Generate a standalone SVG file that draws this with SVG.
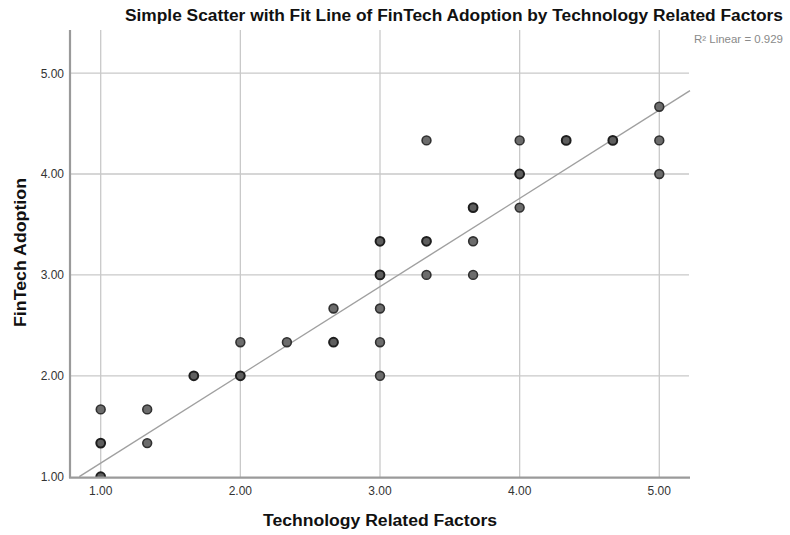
<svg xmlns="http://www.w3.org/2000/svg" width="790" height="535" viewBox="0 0 790 535">
<defs>
<style>
.grid{stroke:#c9c9c9;stroke-width:1.3;fill:none}
.axis{stroke:#9a9a9a;stroke-width:2.2;fill:none}
.fit{stroke:#a0a0a0;stroke-width:1.4;fill:none}
.pt{fill:#6c6c6c;stroke:#303030;stroke-width:1.6}
.pt2{fill:#5e5e5e;stroke:#1e1e1e;stroke-width:2}
.tick{font-family:"Liberation Sans",Arial,sans-serif;font-size:12px;fill:#333333}
.title{font-family:"Liberation Sans",Arial,sans-serif;font-weight:bold;font-size:16px;fill:#111}
.note{font-family:"Liberation Sans",Arial,sans-serif;font-size:10px;fill:#8a8a8a}
</style>
<clipPath id="plot"><rect x="70" y="28" width="622" height="449"/></clipPath>
</defs>
<rect width="790" height="535" fill="#ffffff"/>
<text class="title" x="125" y="21" textLength="658" lengthAdjust="spacingAndGlyphs">Simple Scatter with Fit Line of FinTech Adoption by Technology Related Factors</text>
<text class="note" x="694" y="43" textLength="89" lengthAdjust="spacingAndGlyphs">R² Linear = 0.929</text>
<g id="grid">
<line class="grid" x1="100.7" y1="30" x2="100.7" y2="477"/>
<line class="grid" x1="240.35" y1="30" x2="240.35" y2="477"/>
<line class="grid" x1="380" y1="30" x2="380" y2="477"/>
<line class="grid" x1="519.65" y1="30" x2="519.65" y2="477"/>
<line class="grid" x1="659.3" y1="30" x2="659.3" y2="477"/>
<line class="grid" x1="70" y1="73.1" x2="689" y2="73.1"/>
<line class="grid" x1="70" y1="174" x2="689" y2="174"/>
<line class="grid" x1="70" y1="274.9" x2="689" y2="274.9"/>
<line class="grid" x1="70" y1="375.8" x2="689" y2="375.8"/>
</g>
<g id="fit-line">
<line class="fit" x1="79.3" y1="476.7" x2="690" y2="90.7"/>
</g>
<g id="points" clip-path="url(#plot)">
<circle class="pt2" cx="100.7" cy="476.7" r="4.4"/>
<circle class="pt2" cx="100.7" cy="443.1" r="4.4"/>
<circle class="pt" cx="100.7" cy="409.4" r="4.4"/>
<circle class="pt" cx="147.2" cy="443.1" r="4.4"/>
<circle class="pt" cx="147.2" cy="409.4" r="4.4"/>
<circle class="pt2" cx="193.8" cy="375.8" r="4.4"/>
<circle class="pt2" cx="240.35" cy="375.8" r="4.4"/>
<circle class="pt" cx="240.35" cy="342.2" r="4.4"/>
<circle class="pt" cx="286.9" cy="342.2" r="4.4"/>
<circle class="pt2" cx="333.5" cy="342.2" r="4.4"/>
<circle class="pt" cx="333.5" cy="308.5" r="4.4"/>
<circle class="pt" cx="380" cy="375.8" r="4.4"/>
<circle class="pt" cx="380" cy="342.2" r="4.4"/>
<circle class="pt" cx="380" cy="308.5" r="4.4"/>
<circle class="pt2" cx="380" cy="274.9" r="4.4"/>
<circle class="pt2" cx="380" cy="241.3" r="4.4"/>
<circle class="pt" cx="426.5" cy="274.9" r="4.4"/>
<circle class="pt2" cx="426.5" cy="241.3" r="4.4"/>
<circle class="pt" cx="426.5" cy="140.4" r="4.4"/>
<circle class="pt" cx="473.1" cy="274.9" r="4.4"/>
<circle class="pt" cx="473.1" cy="241.3" r="4.4"/>
<circle class="pt2" cx="473.1" cy="207.6" r="4.4"/>
<circle class="pt" cx="519.65" cy="207.6" r="4.4"/>
<circle class="pt2" cx="519.65" cy="174" r="4.4"/>
<circle class="pt" cx="519.65" cy="140.4" r="4.4"/>
<circle class="pt2" cx="566.2" cy="140.4" r="4.4"/>
<circle class="pt2" cx="612.8" cy="140.4" r="4.4"/>
<circle class="pt" cx="659.3" cy="174" r="4.4"/>
<circle class="pt" cx="659.3" cy="140.4" r="4.4"/>
<circle class="pt" cx="659.3" cy="106.7" r="4.4"/>
</g>
<g id="axes">
<line class="axis" x1="70" y1="30" x2="70" y2="478"/>
<line class="axis" x1="69" y1="477.6" x2="690" y2="477.6"/>
</g>
<g id="y-ticks" class="tick" text-anchor="end">
<text x="64" y="77.5">5.00</text>
<text x="64" y="178.4">4.00</text>
<text x="64" y="279.3">3.00</text>
<text x="64" y="380.2">2.00</text>
<text x="64" y="481.1">1.00</text>
</g>
<g id="x-ticks" class="tick" text-anchor="middle">
<text x="100.7" y="495">1.00</text>
<text x="240.35" y="495">2.00</text>
<text x="380" y="495">3.00</text>
<text x="519.65" y="495">4.00</text>
<text x="659.3" y="495">5.00</text>
</g>
<text class="title" x="380" y="525.5" text-anchor="middle" textLength="234" lengthAdjust="spacingAndGlyphs">Technology Related Factors</text>
<text class="title" transform="translate(26 252.5) rotate(-90)" text-anchor="middle" textLength="149" lengthAdjust="spacingAndGlyphs">FinTech Adoption</text>
</svg>
